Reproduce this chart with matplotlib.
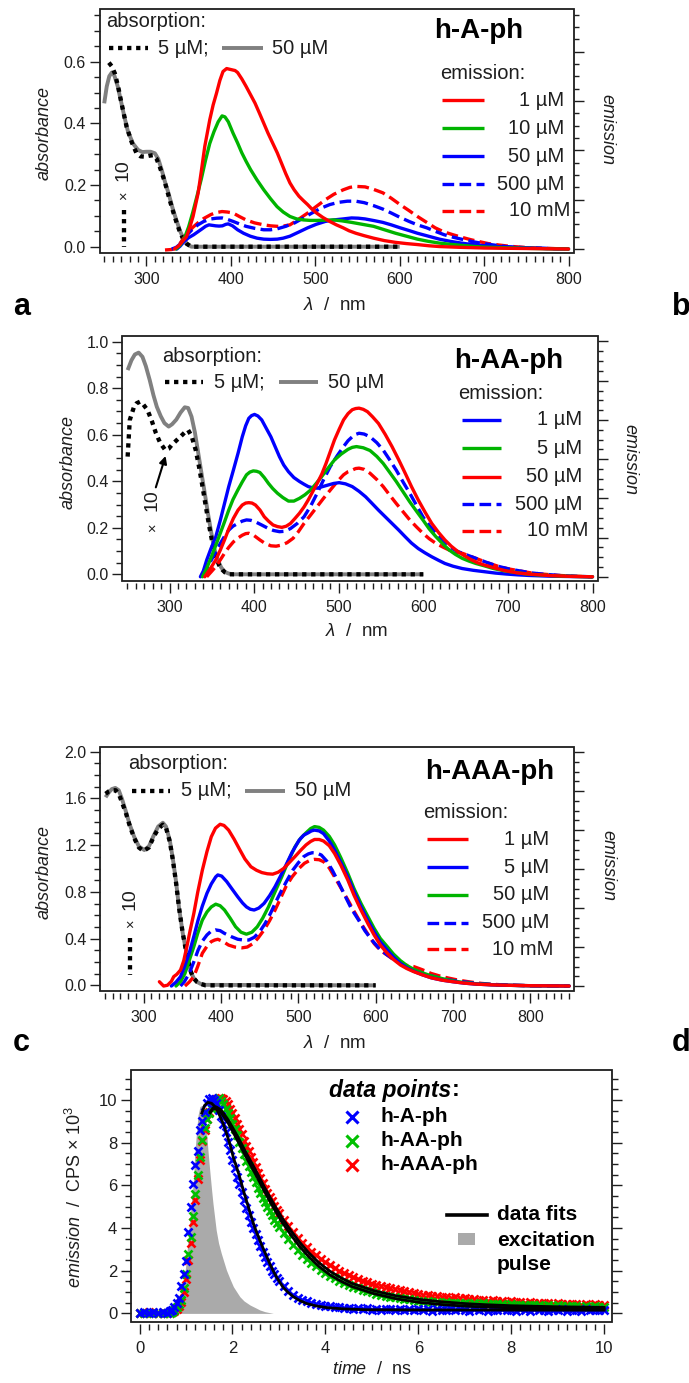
import numpy as np
import matplotlib
matplotlib.use("Agg")
import matplotlib.pyplot as plt
from matplotlib.ticker import MultipleLocator, FormatStrFormatter
from matplotlib.lines import Line2D
from matplotlib.patches import Rectangle, FancyArrowPatch

plt.rcParams['font.family'] = ['Liberation Sans', 'DejaVu Sans']
plt.rcParams['mathtext.fontset'] = 'custom'
plt.rcParams['mathtext.rm'] = 'Liberation Sans'
plt.rcParams['mathtext.it'] = 'Liberation Sans:italic'
plt.rcParams['mathtext.bf'] = 'Liberation Sans:bold'

# ---------------------------------------------------------------- data
# Absorption spectra (wavelength nm, absorbance); the 5 uM traces are x10
a_abs5 = [(255.5, 0.597), (259, 0.585), (262.6, 0.562), (266.5, 0.519), (270.5, 0.465), (276.5, 0.389),
          (282.4, 0.34), (288.3, 0.303), (293, 0.293), (298, 0.292), (303, 0.295), (308, 0.297),
          (312, 0.285), (315.8, 0.259), (320, 0.225), (323.8, 0.19), (327.5, 0.152), (331.6, 0.114),
          (335.5, 0.08), (339.5, 0.049), (343.5, 0.025), (347.4, 0.01), (352, 0.002), (356, 0.0), (600, 0.0)]
a_abs50 = [(250, 0.465), (253, 0.52), (256, 0.553), (259, 0.565), (262, 0.555), (266, 0.52), (270, 0.47),
           (274, 0.42), (278, 0.375), (284, 0.335), (290, 0.314), (295, 0.307), (300, 0.308), (305, 0.308),
           (310, 0.303), (314, 0.285), (318, 0.25), (322, 0.21), (326, 0.175), (331, 0.125), (335, 0.09),
           (340, 0.05), (344, 0.025), (348, 0.01), (353, 0.0), (600, 0.0)]
b_abs5 = [(250.5, 0.506), (253, 0.663), (258, 0.72), (261, 0.735), (265, 0.742), (269, 0.73), (274, 0.706),
          (279, 0.66), (284, 0.606), (289, 0.565), (295, 0.534), (299, 0.54), (302.6, 0.556), (308, 0.575),
          (313, 0.592), (318, 0.61), (322, 0.62), (326, 0.595), (331, 0.534), (335, 0.46), (339, 0.377),
          (343, 0.29), (347, 0.205), (351, 0.13), (354.7, 0.076), (358.5, 0.04), (362.5, 0.019),
          (366, 0.007), (370, 0.0), (600, 0.0)]
b_abs50 = [(250.5, 0.878), (255, 0.92), (259, 0.945), (263.5, 0.953), (268, 0.935), (272, 0.895),
           (276.6, 0.835), (281, 0.77), (285, 0.72), (289.6, 0.68), (294, 0.65), (299, 0.635), (303, 0.645),
           (308, 0.665), (313, 0.695), (318, 0.718), (322, 0.715), (326, 0.678), (330, 0.61), (334, 0.52),
           (338, 0.43), (341.7, 0.348), (345.5, 0.26), (349.5, 0.176), (353, 0.11), (357, 0.062),
           (361, 0.03), (365, 0.011), (370, 0.003), (375.5, 0.0), (600, 0.0)]
c_abs5 = [(251, 1.64), (255, 1.66), (259, 1.67), (264, 1.67), (268, 1.64), (272, 1.57), (277, 1.48),
          (282, 1.37), (288, 1.26), (294, 1.18), (300, 1.15), (307, 1.18), (313, 1.27), (319, 1.34),
          (325, 1.375), (329, 1.35), (334, 1.23), (338, 1.07), (342, 0.88), (346, 0.66), (350.6, 0.45),
          (354, 0.33), (358, 0.2), (361.5, 0.11), (365, 0.06), (369, 0.03), (374, 0.012), (380, 0.0), (600, 0.0)]
c_abs50 = [(251, 1.61), (255, 1.65), (259, 1.68), (263.6, 1.69), (268, 1.67), (272, 1.6), (276.7, 1.50),
           (282, 1.38), (288, 1.27), (294, 1.19), (301, 1.158), (307, 1.19), (313, 1.28), (319, 1.36),
           (325, 1.392), (329, 1.36), (334, 1.24), (338, 1.08), (342, 0.89), (346, 0.66), (350.6, 0.45),
           (354, 0.33), (358, 0.2), (361.5, 0.11), (365, 0.06), (369, 0.03), (374, 0.012), (380, 0.004), (600, 0.0)]

# Emission spectra (wavelength nm, emission in right-axis units)
a_em_1uM = [(333, 0.0), (338, 0.06), (343, 0.16), (347.4, 0.25), (351, 0.42), (355.2, 0.66), (358, 0.88),
            (361.2, 1.13), (365.2, 1.60), (369.1, 2.08), (375, 2.62), (379, 2.92), (383, 3.16), (387, 3.42),
            (390.7, 3.60), (395, 3.66), (400, 3.64), (405, 3.62), (408, 3.58), (413, 3.45), (418, 3.30),
            (423, 3.14), (428.6, 2.96), (434, 2.75), (439, 2.55), (444, 2.35), (449.5, 2.15), (455, 1.95),
            (460, 1.74), (465, 1.53), (470, 1.34), (475, 1.20), (480.7, 1.07), (486, 0.98), (491, 0.90),
            (496, 0.81), (501.5, 0.73), (509, 0.64), (517, 0.56), (525, 0.49), (533, 0.43), (540, 0.37),
            (548, 0.32), (558, 0.27), (569, 0.22), (582, 0.17), (595, 0.135), (608, 0.11), (621, 0.09),
            (635, 0.065), (647, 0.05), (670, 0.035), (700, 0.02), (750, 0.01), (800, 0.0)]
a_em_10uM = [(335, 0.0), (340, 0.08), (345, 0.22), (350, 0.45), (355, 0.75), (360, 1.08), (365, 1.42),
             (370, 1.80), (375, 2.14), (380, 2.38), (385, 2.58), (389.6, 2.70), (393, 2.68), (397, 2.58),
             (402.6, 2.35), (408, 2.15), (413, 1.95), (418, 1.78), (423.4, 1.61), (431, 1.40), (439, 1.20),
             (447, 1.02), (454.7, 0.86), (462, 0.75), (470, 0.66), (478, 0.61), (486, 0.59), (494, 0.58),
             (501.5, 0.58), (512, 0.585), (522, 0.59), (532, 0.57), (543, 0.54), (556, 0.50), (569, 0.46),
             (582, 0.39), (595, 0.32), (608, 0.26), (621, 0.20), (634, 0.155), (647, 0.12), (660, 0.095),
             (673, 0.074), (686, 0.055), (699, 0.04), (725, 0.025), (750, 0.014), (775, 0.006), (800, 0.0)]
a_em_50uM = [(336, 0.0), (340, 0.06), (345, 0.16), (350, 0.23), (356, 0.29), (361, 0.35), (366, 0.41),
             (370, 0.46), (374, 0.49), (378, 0.48), (382, 0.47), (386, 0.465), (390, 0.47), (394, 0.50),
             (397, 0.51), (402, 0.47), (408, 0.39), (415, 0.32), (423, 0.26), (431, 0.22), (439, 0.20),
             (447, 0.195), (455, 0.20), (462, 0.22), (470, 0.26), (480, 0.34), (491, 0.43), (501, 0.50),
             (512, 0.56), (522, 0.59), (533, 0.61), (543, 0.63), (551, 0.625), (559, 0.61), (570, 0.575),
             (580, 0.54), (590, 0.49), (600.5, 0.43), (611, 0.375), (621, 0.32), (634, 0.26), (647, 0.20),
             (660, 0.155), (673, 0.12), (686, 0.09), (699, 0.07), (712, 0.055), (725, 0.04), (751, 0.02),
             (775, 0.01), (800, 0.0)]
a_em_500uM = [(330, 0.0), (335, 0.03), (340, 0.10), (345, 0.22), (350, 0.32), (355, 0.41), (361, 0.49),
              (368, 0.56), (376.5, 0.61), (383, 0.625), (389.6, 0.63), (396, 0.60), (402.6, 0.56),
              (410, 0.51), (418, 0.46), (428, 0.42), (439, 0.39), (447, 0.39), (455, 0.41), (465, 0.46),
              (475.5, 0.53), (486, 0.63), (496, 0.73), (507, 0.83), (517, 0.90), (527, 0.945), (538, 0.97),
              (548, 0.97), (558, 0.94), (569, 0.88), (580, 0.81), (590, 0.73), (600, 0.645), (611, 0.56),
              (621, 0.49), (632, 0.43), (642, 0.36), (652.6, 0.29), (663, 0.24), (673, 0.20), (686, 0.15),
              (699, 0.11), (712, 0.08), (725, 0.05), (750, 0.025), (775, 0.01), (800, 0.0)]
a_em_10mM = [(322, -0.02), (330, -0.01), (335, 0.02), (340, 0.12), (345, 0.24), (350, 0.35), (355, 0.44),
             (361, 0.53), (368, 0.62), (376.5, 0.70), (383, 0.74), (389.6, 0.76), (396, 0.75), (402.6, 0.73),
             (410, 0.66), (418, 0.59), (428, 0.53), (439, 0.49), (447, 0.47), (455, 0.46), (462, 0.465),
             (470, 0.49), (480, 0.60), (491, 0.73), (501, 0.86), (512, 1.00), (522, 1.11), (533, 1.20),
             (541, 1.25), (548, 1.27), (559, 1.26), (569, 1.21), (580, 1.14), (590, 1.03), (600.5, 0.90),
             (611, 0.78), (621, 0.66), (632, 0.54), (642, 0.43), (652, 0.35), (663, 0.29), (673, 0.24),
             (684, 0.19), (694, 0.15), (705, 0.11), (718, 0.08), (731, 0.054), (750, 0.03), (775, 0.012),
             (800, 0.0)]

b_em_1uM = [(336.5, 0.0), (340, 0.15), (344, 0.43), (349, 0.72), (354.7, 1.02), (360, 1.44), (365, 1.87),
            (370, 2.30), (375.5, 2.72), (381, 3.15), (386, 3.57), (390, 3.85), (393.7, 4.04), (397, 4.11),
            (400.5, 4.14), (404.5, 4.10), (409, 4.0), (414, 3.80), (419.8, 3.57), (425, 3.31), (430, 3.06),
            (435, 2.85), (440.6, 2.68), (447, 2.53), (453.6, 2.43), (459, 2.36), (464, 2.30), (469, 2.27),
            (474.5, 2.26), (481, 2.30), (487.5, 2.34), (494, 2.38), (500.5, 2.40), (508, 2.37), (516, 2.30),
            (524, 2.18), (531.8, 2.04), (539, 1.88), (547, 1.70), (555, 1.53), (563, 1.36), (571, 1.19),
            (578.6, 1.02), (586, 0.86), (594, 0.72), (602, 0.61), (610, 0.51), (618, 0.42), (625.5, 0.34),
            (635, 0.27), (646, 0.21), (659, 0.165), (672, 0.13), (685, 0.095), (698, 0.07), (711, 0.05),
            (724.5, 0.034), (750, 0.015), (775, 0.006), (800, 0.0)]
b_em_5uM = [(339, 0.0), (344, 0.22), (349.5, 0.51), (355, 0.82), (360, 1.11), (365, 1.40), (370, 1.70),
            (375, 1.97), (380.7, 2.21), (386, 2.42), (391, 2.60), (395, 2.67), (399, 2.70), (403, 2.69),
            (406.8, 2.66), (412, 2.53), (417, 2.38), (422, 2.25), (427.6, 2.13), (434, 2.02), (440.6, 1.93),
            (447, 1.93), (453.6, 2.0), (460, 2.09), (466.7, 2.21), (473, 2.37), (479.7, 2.55), (487, 2.76),
            (495, 2.98), (503, 3.13), (511, 3.25), (516, 3.30), (521, 3.32), (529, 3.29), (537, 3.22),
            (545, 3.07), (552.6, 2.89), (560, 2.67), (568, 2.43), (576, 2.17), (584, 1.91), (592, 1.67),
            (599.5, 1.45), (607, 1.22), (615, 1.02), (623, 0.84), (630.7, 0.68), (638, 0.57), (646, 0.47),
            (654, 0.40), (662, 0.34), (672, 0.28), (683, 0.21), (696, 0.15), (709, 0.11), (722, 0.07),
            (735, 0.05), (760, 0.02), (780, 0.008), (800, 0.0)]
b_em_50uM = [(341.7, 0.0), (348, 0.2), (354.7, 0.43), (360, 0.68), (365, 0.94), (370, 1.22), (375.5, 1.49),
             (381, 1.70), (386, 1.83), (390, 1.88), (393.7, 1.89), (397.5, 1.88), (401.6, 1.83), (407, 1.70),
             (412, 1.53), (417, 1.42), (422.4, 1.32), (427.6, 1.28), (432.8, 1.26), (438, 1.29), (443, 1.36),
             (448, 1.48), (453.6, 1.62), (459, 1.78), (464, 1.96), (469, 2.16), (474.5, 2.38), (480, 2.62),
             (485, 2.89), (490, 3.19), (495, 3.49), (500.5, 3.76), (505.7, 4.0), (511, 4.16), (516, 4.26),
             (520, 4.29), (524, 4.30), (529, 4.27), (534, 4.21), (540, 4.08), (547, 3.91), (555, 3.63),
             (563, 3.32), (571, 2.98), (578.6, 2.64), (586, 2.30), (594, 1.96), (602, 1.65), (610, 1.36),
             (618, 1.13), (625.5, 0.94), (633, 0.78), (641, 0.64), (649, 0.53), (657, 0.43), (664, 0.36),
             (672, 0.30), (685, 0.22), (698, 0.15), (711, 0.10), (724.5, 0.07), (750, 0.03), (775, 0.01),
             (800, 0.0)]
b_em_500uM = [(339, 0.0), (344, 0.2), (349.5, 0.43), (355, 0.65), (360, 0.85), (365, 1.03), (370, 1.19),
              (375, 1.29), (380.7, 1.36), (386, 1.42), (391, 1.45), (396, 1.44), (401.6, 1.40), (409, 1.32),
              (417, 1.23), (423, 1.18), (430, 1.15), (436, 1.16), (443, 1.23), (451, 1.36), (459, 1.53),
              (467, 1.81), (474.5, 2.13), (482, 2.47), (490, 2.81), (498, 3.08), (505.7, 3.32), (511, 3.47),
              (516, 3.57), (520, 3.63), (524, 3.66), (530, 3.64), (537, 3.57), (545, 3.42), (552.6, 3.23),
              (560, 2.99), (568, 2.72), (576, 2.42), (584, 2.13), (592, 1.82), (599.5, 1.53), (607, 1.31),
              (615, 1.11), (623, 0.93), (630.7, 0.77), (638, 0.67), (646, 0.60), (656, 0.52), (667, 0.43),
              (677, 0.35), (688, 0.27), (701, 0.20), (714, 0.15), (727, 0.10), (740, 0.07), (760, 0.035),
              (780, 0.012), (800, 0.0)]
b_em_10mM = [(344, 0.0), (349, 0.12), (354.7, 0.26), (360, 0.43), (365, 0.60), (370, 0.75), (375.5, 0.89),
             (381, 0.99), (386, 1.06), (390, 1.10), (393.7, 1.11), (400, 1.05), (406.8, 0.94), (413, 0.85),
             (419.8, 0.79), (426, 0.78), (432.8, 0.81), (439, 0.87), (446, 0.98), (452, 1.14), (459, 1.36),
             (467, 1.58), (474.5, 1.79), (482, 2.0), (490, 2.21), (498, 2.42), (505.7, 2.60), (511, 2.68),
             (516, 2.72), (520, 2.76), (524, 2.77), (530, 2.74), (537, 2.64), (545, 2.48), (552.6, 2.30),
             (560, 2.09), (568, 1.87), (576, 1.66), (584, 1.45), (592, 1.27), (599.5, 1.11), (607, 0.97),
             (615, 0.85), (623, 0.76), (630.7, 0.68), (638, 0.63), (646, 0.60), (656, 0.52), (667, 0.43),
             (677, 0.35), (688, 0.27), (701, 0.20), (714, 0.15), (727, 0.10), (740, 0.07), (760, 0.035),
             (780, 0.012), (800, 0.0)]

c_em_1uM = [(320.5, 0.11), (326, 0.0), (331, 0.02), (336, 0.12), (339, 0.24), (343, 0.30), (347.8, 0.41),
            (352, 0.65), (356, 1.01), (360, 1.40), (365, 1.86), (370, 2.40), (376, 2.97), (382, 3.45),
            (387.6, 3.83), (393, 4.05), (399, 4.15), (404, 4.12), (410, 4.0), (417, 3.77), (424.6, 3.49),
            (431, 3.26), (438.8, 3.06), (446, 2.97), (453, 2.91), (460, 2.88), (467, 2.87), (474, 2.92),
            (481.4, 3.02), (488, 3.16), (495.7, 3.32), (503, 3.48), (510, 3.62), (516, 3.71), (521, 3.76),
            (527, 3.76), (532.6, 3.72), (540, 3.60), (546.9, 3.40), (555, 3.10), (564, 2.72), (572, 2.33),
            (581, 1.95), (590, 1.60), (598, 1.31), (606, 1.05), (615, 0.84), (623, 0.68), (632, 0.54),
            (640, 0.45), (649, 0.37), (660, 0.29), (672, 0.21), (686, 0.15), (700, 0.11), (714, 0.075),
            (729, 0.05), (750, 0.03), (768.7, 0.02), (800, 0.008), (850, 0.0)]
c_em_5uM = [(336, 0.0), (342, 0.10), (347.8, 0.24), (353, 0.50), (359, 0.84), (365, 1.27), (370.5, 1.69),
            (376, 2.05), (382, 2.38), (387.6, 2.62), (393.3, 2.80), (396, 2.85), (401, 2.82), (407.5, 2.68),
            (414, 2.50), (421.7, 2.29), (428, 2.13), (433, 2.03), (438, 1.97), (443, 1.95), (449, 2.0),
            (455.8, 2.12), (463, 2.32), (470, 2.55), (477, 2.82), (484, 3.10), (492, 3.43), (501, 3.74),
            (507, 3.87), (512.7, 3.93), (517, 3.98), (521, 4.0), (527, 3.98), (532.6, 3.91), (540, 3.72),
            (546.9, 3.49), (555, 3.17), (564, 2.80), (572, 2.42), (581, 2.03), (590, 1.68), (598, 1.39),
            (606, 1.13), (615, 0.92), (623, 0.74), (632, 0.58), (640, 0.47), (649, 0.38), (660, 0.29),
            (672, 0.21), (686, 0.15), (700, 0.11), (714, 0.075), (729, 0.05), (750, 0.03), (768.7, 0.02),
            (800, 0.008), (850, 0.0)]
c_em_50uM = [(342, 0.0), (348, 0.12), (353.5, 0.32), (359, 0.65), (365, 1.01), (370, 1.35), (376, 1.69),
             (382, 1.90), (387.6, 2.03), (393.3, 2.10), (399, 2.06), (404.7, 1.95), (412, 1.74), (419, 1.52),
             (426, 1.38), (433, 1.33), (440, 1.38), (447, 1.52), (454, 1.74), (461.5, 2.03), (470, 2.42),
             (478.6, 2.80), (487, 3.20), (495.7, 3.57), (503, 3.79), (510, 3.93), (516, 4.04), (521, 4.09),
             (527, 4.07), (532.6, 4.0), (540, 3.84), (546.9, 3.62), (555, 3.29), (564, 2.89), (572, 2.50),
             (581, 2.12), (590, 1.78), (598, 1.48), (606, 1.22), (615, 1.01), (623, 0.82), (632, 0.65),
             (640, 0.53), (649, 0.43), (660, 0.34), (672, 0.26), (686, 0.19), (700, 0.13), (714, 0.09),
             (729, 0.06), (750, 0.035), (768.7, 0.02), (800, 0.008), (850, 0.0)]
c_em_500uM = [(347.8, 0.0), (353, 0.12), (359, 0.32), (365, 0.62), (370.5, 0.92), (376, 1.15), (382, 1.31),
              (387, 1.40), (393, 1.44), (399, 1.42), (404.7, 1.35), (413, 1.27), (421.7, 1.20), (429, 1.18),
              (436, 1.18), (443, 1.25), (450, 1.39), (457, 1.60), (464, 1.86), (471, 2.16), (478.6, 2.46),
              (486, 2.73), (492.8, 2.97), (500, 3.16), (507, 3.32), (513, 3.39), (518, 3.42), (524, 3.41),
              (529.8, 3.36), (537, 3.20), (544, 2.97), (552, 2.66), (561, 2.29), (569, 1.97), (578, 1.69),
              (586, 1.42), (595, 1.18), (603, 1.0), (612, 0.84), (622, 0.70), (632, 0.58), (643, 0.47),
              (655, 0.37), (669, 0.28), (683, 0.20), (697, 0.15), (712, 0.11), (730, 0.07), (750, 0.04),
              (775, 0.02), (800, 0.008), (850, 0.0)]
c_em_10mM = [(353.5, 0.0), (359, 0.10), (365, 0.24), (370, 0.50), (376, 0.84), (382, 1.02), (387.6, 1.14),
             (392, 1.18), (396, 1.20), (403, 1.14), (410, 1.05), (418, 1.0), (427.4, 0.98), (434, 1.0),
             (441.6, 1.09), (448, 1.23), (455.8, 1.44), (463, 1.68), (470, 1.95), (477, 2.25), (484, 2.55),
             (492, 2.80), (501, 3.02), (508, 3.15), (515.6, 3.23), (521, 3.25), (527, 3.24), (532.6, 3.19),
             (540, 3.03), (546.9, 2.80), (555, 2.52), (564, 2.21), (572, 1.92), (581, 1.61), (590, 1.33),
             (598, 1.09), (606, 0.92), (615, 0.79), (623, 0.68), (632, 0.58), (640, 0.53), (649, 0.50),
             (660, 0.42), (672, 0.32), (684, 0.25), (695, 0.20), (707, 0.15), (720, 0.11), (735, 0.07),
             (750, 0.045), (775, 0.02), (800, 0.008), (850, 0.0)]

# Time-resolved emission (ns, counts x 1e3); the detector channels are shared by all samples
d_time = np.round(np.concatenate([np.arange(0.0, 0.61, 0.1),
                                  np.arange(0.65, 2.96, 0.05),
                                  np.arange(3.0, 10.01, 0.1)]), 3)
d_A = [0.02, 0.07, 0.0, 0.05, 0.03, 0.08, 0.04,
       0.10, 0.18, 0.30, 0.47, 0.70, 1.30, 1.85,
       2.45, 3.80, 5.00, 6.05, 6.95, 7.60, 8.60, 9.00, 9.45, 9.85,
       10.05, 10.08, 10.0, 9.85, 9.55, 9.25, 8.90, 8.50, 8.05, 7.65,
       7.20, 6.80, 6.40, 6.05, 5.70, 5.30, 4.95, 4.62, 4.30, 4.00,
       3.72, 3.44, 3.17, 2.90, 2.65, 2.42, 2.20, 2.00, 1.83, 1.66,
       1.52, 1.27, 1.06, 0.88, 0.74, 0.64, 0.56, 0.50, 0.45, 0.40,
       0.36, 0.36, 0.30, 0.31, 0.26, 0.27, 0.22, 0.25, 0.20, 0.23,
       0.18, 0.22, 0.16, 0.21, 0.19, 0.14, 0.22, 0.17, 0.20, 0.15,
       0.21, 0.16, 0.19, 0.13, 0.20, 0.18, 0.15, 0.21, 0.14, 0.19,
       0.17, 0.12, 0.20, 0.16, 0.19, 0.13, 0.18, 0.15, 0.20, 0.14,
       0.18, 0.13, 0.19, 0.16, 0.12, 0.20, 0.15, 0.18, 0.13, 0.17,
       0.16, 0.19, 0.12, 0.18, 0.15, 0.13, 0.19, 0.14, 0.17, 0.16,
       0.15]
d_AA = [0.0, 0.03, 0.01, 0.04, 0.02, 0.0, 0.03,
        0.03, 0.07, 0.14, 0.28, 0.45, 0.65, 1.20,
        1.85, 2.80, 3.60, 4.55, 5.60, 6.50, 7.35, 8.15, 8.70, 9.10,
        9.40, 9.60, 9.80, 10.00, 10.08, 9.95, 9.80, 9.60, 9.40, 9.15,
        8.90, 8.65, 8.35, 8.05, 7.75, 7.45, 7.15, 6.90, 6.65, 6.40,
        6.15, 5.90, 5.65, 5.40, 5.20, 5.00, 4.80, 4.60, 4.40, 4.22,
        4.05, 3.75, 3.48, 3.22, 2.98, 2.76, 2.56, 2.37, 2.20, 2.04,
        1.90, 1.77, 1.65, 1.54, 1.44, 1.35, 1.26, 1.18, 1.11, 1.04,
        0.98, 0.93, 0.88, 0.83, 0.79, 0.75, 0.72, 0.68, 0.66, 0.62,
        0.58, 0.55, 0.57, 0.53, 0.55, 0.51, 0.53, 0.50, 0.51, 0.48,
        0.50, 0.46, 0.48, 0.45, 0.47, 0.43, 0.45, 0.42, 0.44, 0.41,
        0.43, 0.39, 0.41, 0.38, 0.40, 0.37, 0.39, 0.36, 0.38, 0.35,
        0.37, 0.34, 0.36, 0.33, 0.35, 0.32, 0.34, 0.32, 0.33, 0.31,
        0.32]
d_AAA = [0.03, 0.0, 0.05, 0.02, 0.04, 0.01, 0.03,
         0.02, 0.05, 0.12, 0.22, 0.35, 0.55, 1.00,
         1.60, 2.50, 3.30, 4.30, 5.30, 6.30, 7.20, 8.10, 8.60, 9.10,
         9.45, 9.70, 9.90, 10.05, 10.10, 10.10, 10.05, 9.95, 9.80, 9.60,
         9.40, 9.15, 8.90, 8.65, 8.40, 8.10, 7.85, 7.60, 7.35, 7.10,
         6.85, 6.60, 6.35, 6.10, 5.85, 5.65, 5.45, 5.25, 5.05, 4.85,
         4.70, 4.38, 4.08, 3.80, 3.55, 3.32, 3.10, 2.90, 2.72, 2.55,
         2.40, 2.26, 2.13, 2.00, 1.90, 1.80, 1.70, 1.62, 1.54, 1.47,
         1.40, 1.34, 1.28, 1.22, 1.17, 1.12, 1.08, 1.03, 0.99, 0.96,
         0.90, 0.86, 0.87, 0.81, 0.82, 0.77, 0.78, 0.73, 0.75, 0.70,
         0.71, 0.66, 0.68, 0.63, 0.64, 0.60, 0.62, 0.57, 0.59, 0.55,
         0.56, 0.52, 0.54, 0.50, 0.52, 0.48, 0.50, 0.47, 0.49, 0.45,
         0.47, 0.43, 0.46, 0.42, 0.44, 0.41, 0.43, 0.40, 0.42, 0.39,
         0.40]
d_fit_A = [(1.34, 9.39), (1.40, 9.75), (1.47, 9.89), (1.55, 9.85), (1.62, 9.7), (1.70, 9.4), (1.80, 8.9),
           (1.87, 8.45), (1.95, 7.9), (2.02, 7.3), (2.09, 6.85), (2.16, 6.35), (2.23, 5.8), (2.31, 5.22),
           (2.38, 4.72), (2.45, 4.22), (2.52, 3.8), (2.59, 3.42), (2.66, 3.05), (2.74, 2.65), (2.81, 2.3),
           (2.88, 1.98), (2.95, 1.7), (3.02, 1.45), (3.09, 1.22), (3.2, 0.98), (3.31, 0.78), (3.45, 0.6),
           (3.6, 0.46), (3.8, 0.35), (4.03, 0.27), (4.4, 0.21), (4.89, 0.17), (6.0, 0.16), (8.0, 0.155),
           (10.0, 0.15)]
d_fit_AA = [(1.52, 9.4), (1.58, 9.58), (1.65, 9.6), (1.75, 9.42), (1.9, 8.95), (2.11, 8.1), (2.3, 7.3),
            (2.49, 6.55), (2.68, 5.75), (2.87, 5.0), (3.06, 4.3), (3.25, 3.7), (3.44, 3.15), (3.63, 2.68),
            (3.86, 2.2), (4.10, 1.8), (4.34, 1.5), (4.58, 1.25), (5.05, 0.92), (5.53, 0.68), (6.0, 0.52),
            (6.47, 0.42), (7.0, 0.34), (7.42, 0.3), (8.0, 0.26), (9.0, 0.23), (10.0, 0.21)]
d_fit_AAA = [(1.52, 9.45), (1.58, 9.63), (1.65, 9.68), (1.75, 9.55), (1.9, 9.1), (2.11, 8.3), (2.3, 7.5),
             (2.49, 6.75), (2.68, 5.95), (2.87, 5.2), (3.06, 4.5), (3.25, 3.9), (3.44, 3.35), (3.63, 2.87),
             (3.86, 2.38), (4.10, 1.97), (4.34, 1.66), (4.58, 1.4), (5.05, 1.06), (5.53, 0.82), (6.0, 0.66),
             (6.47, 0.55), (7.0, 0.46), (7.42, 0.41), (8.0, 0.36), (9.0, 0.31), (10.0, 0.28)]
d_pulse = [(0.70, 0.0), (0.80, 0.15), (0.87, 0.47), (0.94, 1.25), (1.00, 2.34), (1.05, 3.59), (1.10, 4.84),
           (1.16, 6.25), (1.19, 7.5), (1.23, 8.6), (1.26, 9.3), (1.30, 9.7), (1.35, 9.75), (1.40, 9.4),
           (1.44, 8.6), (1.47, 7.7), (1.51, 6.72), (1.55, 5.8), (1.58, 5.16), (1.65, 3.9), (1.70, 3.3),
           (1.76, 2.81), (1.87, 2.03), (1.95, 1.6), (2.02, 1.25), (2.10, 0.98), (2.16, 0.78), (2.25, 0.58),
           (2.38, 0.39), (2.5, 0.26), (2.59, 0.16), (2.7, 0.08), (2.81, 0.03), (2.88, 0.0)]

compound_names = ['h-A-ph', 'h-AA-ph', 'h-AAA-ph']
a_labels = ['1 µM', '10 µM', '50 µM', '500 µM', '10 mM']
b_labels = ['1 µM', '5 µM', '50 µM', '500 µM', '10 mM']
c_labels = ['1 µM', '5 µM', '50 µM', '500 µM', '10 mM']

# ---------------------------------------------------------------- style
RED, GREEN, BLUE = '#ff0000', '#00b400', '#0000ff'
GREEN_D = '#00c000'
GREY, PULSE = '#808080', '#aaaaaa'
INK = '#1e1e1e'
DASH = (0, (3.5, 1.6))
DOT = (0, (1, 1.1))
EM_LW, ABS_LW, DOT_LW = 2.4, 2.8, 3.1

W, H = 689, 1383
fig = plt.figure(figsize=(W / 100, H / 100), dpi=100)


def fxy(x, y):
    return x / W, 1 - y / H


def make_axes(l, t, r, b):
    return fig.add_axes([l / W, 1 - b / H, (r - l) / W, (b - t) / H])


def ftext(x, y, s, **kw):
    kw.setdefault('color', INK)
    return fig.text(*fxy(x, y), s, **kw)


def fline(xs, ys, **kw):
    fx = [x / W for x in xs]
    fy = [1 - y / H for y in ys]
    fig.add_artist(Line2D(fx, fy, transform=fig.transFigure, **kw))


def unzip(pairs):
    x, y = zip(*pairs)
    return np.array(x), np.array(y)


def add_frame(ax):
    for s in ax.spines.values():
        s.set_visible(False)
    ax.add_patch(Rectangle((0, 0), 1, 1, transform=ax.transAxes, fill=False,
                           lw=1.3, ec=INK, zorder=20, clip_on=False))


def spectrum_axes(box, xlim, ylim, elim, ymaj, ymin):
    ax = make_axes(*box)
    ax2 = ax.twinx()
    ax.set_xlim(*xlim)
    ax.set_ylim(*ylim)
    ax2.set_ylim(*elim)
    for s in ax.spines.values():
        s.set_visible(False)
    ax.spines['bottom'].set_position(('outward', 2))
    ax.xaxis.set_major_locator(MultipleLocator(100))
    ax.xaxis.set_minor_locator(MultipleLocator(10))
    ax.yaxis.set_major_locator(MultipleLocator(ymaj))
    ax.yaxis.set_minor_locator(MultipleLocator(ymin))
    ax.yaxis.set_major_formatter(FormatStrFormatter('%.1f'))
    ax.tick_params(which='both', direction='out', color=INK, width=1.0,
                   labelsize=11.5, labelcolor=INK)
    ax.tick_params(which='major', length=7)
    ax.tick_params(which='minor', length=4.5)
    ax.tick_params(axis='y', which='major', pad=3)
    ax.tick_params(axis='x', which='major', pad=5)
    ax2.yaxis.set_major_locator(MultipleLocator(1))
    ax2.yaxis.set_minor_locator(MultipleLocator(0.25))
    ax2.tick_params(which='both', direction='out', right=True, labelright=False,
                    color=INK, width=1.0)
    ax2.tick_params(which='major', length=7)
    ax2.tick_params(which='minor', length=3.6)
    add_frame(ax2)
    return ax, ax2


def draw_absorption(ax, abs5, abs50):
    x, y = unzip(abs50)
    ax.plot(x, y, color=GREY, lw=ABS_LW, solid_capstyle='butt', zorder=2)
    x, y = unzip(abs5)
    ax.plot(x, y, color='black', lw=DOT_LW, ls=DOT, dash_capstyle='butt', zorder=3)


def draw_emission(ax2, series):
    for pairs, color, dashed in series:
        x, y = unzip(pairs)
        ax2.plot(x, y, color=color, lw=EM_LW, ls=DASH if dashed else '-',
                 dash_capstyle='butt', solid_capstyle='round', zorder=3)


def legend_block(abs_pos, sample_row, name_pos, name, em_pos, samp_x, rows, entries):
    ftext(abs_pos[0], abs_pos[1], 'absorption:', fontsize=14.5, ha='left', va='center')
    (d1, d2, t5, g1, g2, t50, ry) = sample_row
    fline([d1, d2], [ry, ry], color='black', lw=DOT_LW, ls=DOT, dash_capstyle='butt')
    ftext(t5, ry, '5 µM;', fontsize=14.5, ha='left', va='center')
    fline([g1, g2], [ry, ry], color=GREY, lw=ABS_LW, solid_capstyle='butt')
    ftext(t50, ry, '50 µM', fontsize=14.5, ha='left', va='center')
    ftext(name_pos[0], name_pos[1], name, fontsize=20, fontweight='bold', ha='left', va='center',
          color='black')
    ftext(em_pos[0], em_pos[1], 'emission:', fontsize=14.5, ha='left', va='center')
    for y, (label, color, dashed, right) in zip(rows, entries):
        fline([samp_x[0], samp_x[1]], [y, y], color=color, lw=EM_LW,
              ls=DASH if dashed else '-', dash_capstyle='butt', solid_capstyle='butt')
        ftext(right, y, label, fontsize=14.5, ha='right', va='center')


def axis_labels(absorb_pos, lam_pos, em_pos):
    ftext(*absorb_pos, 'absorbance', fontsize=13, style='italic', rotation=90,
          ha='center', va='center')
    ftext(*lam_pos, r'$\mathit{λ}$  /  nm', fontsize=13.5, ha='center', va='center')
    ftext(*em_pos, 'emission', fontsize=13, style='italic', rotation=270,
          ha='center', va='center')


def times_ten(x, y10, yx, dot=None):
    ftext(x, y10, '10', fontsize=14, rotation=90, ha='center', va='center')
    ftext(x + 1, yx, '×', fontsize=10.5, rotation=90, ha='center', va='center')
    if dot is not None:
        fline([dot[0], dot[0]], [dot[1], dot[2]], color='black', lw=DOT_LW, ls=DOT,
              dash_capstyle='butt')


# ---------------------------------------------------------------- panel a
ax_a, ax_a2 = spectrum_axes((100, 9.3, 573.6, 253), (245, 806), (-0.0204, 0.770),
                            (-0.081, 4.862), 0.2, 0.05)
draw_absorption(ax_a, a_abs5, a_abs50)
draw_emission(ax_a2, [(a_em_10mM, RED, True), (a_em_500uM, BLUE, True), (a_em_50uM, BLUE, False),
                      (a_em_10uM, GREEN, False), (a_em_1uM, RED, False)])
legend_block((105.7, 21.7), (109, 147.5, 158.5, 222, 263, 271.7, 48.3), (433.7, 30.7), compound_names[0],
             (440, 73.3), (442.5, 483.5), [100, 128.3, 156, 184, 210.7],
             [(a_labels[0], RED, False, 564), (a_labels[1], GREEN, False, 564),
              (a_labels[2], BLUE, False, 564), (a_labels[3], BLUE, True, 564),
              (a_labels[4], RED, True, 570)])
axis_labels((44, 133), (334.6, 305), (607, 130))
times_ten(123, 170, 195, dot=(124.2, 210, 247))

# ---------------------------------------------------------------- panel b
ax_b, ax_b2 = spectrum_axes((122.4, 336, 597.5, 580.7), (244.3, 805.9), (-0.0275, 1.0245),
                            (-0.10, 6.14), 0.2, 0.05)
draw_absorption(ax_b, b_abs5, b_abs50)
draw_emission(ax_b2, [(b_em_10mM, RED, True), (b_em_500uM, BLUE, True), (b_em_1uM, BLUE, False),
                      (b_em_5uM, GREEN, False), (b_em_50uM, RED, False)])
legend_block((162, 356), (165, 203.4, 214.4, 278.7, 318, 328, 382.3), (454.4, 360.7), compound_names[1],
             (458, 393.3), (461.5, 501), [420, 448.3, 476.7, 504.3, 530.7],
             [(b_labels[0], BLUE, False, 582), (b_labels[1], GREEN, False, 582),
              (b_labels[2], RED, False, 582), (b_labels[3], BLUE, True, 582),
              (b_labels[4], RED, True, 588)])
axis_labels((68, 461.7), (356.7, 631.7), (629.7, 460))
times_ten(152, 500, 527)
fig.add_artist(FancyArrowPatch(fxy(155, 490), fxy(166.4, 453.3), transform=fig.transFigure,
                               arrowstyle='-|>', mutation_scale=11, lw=1.5, color='black'))

# ---------------------------------------------------------------- panel c
ax_c, ax_c2 = spectrum_axes((100.4, 746.7, 573.8, 990.7), (244.3, 856), (-0.046, 2.043),
                            (-0.12, 6.14), 0.4, 0.1)
draw_absorption(ax_c, c_abs5, c_abs50)
draw_emission(ax_c2, [(c_em_10mM, RED, True), (c_em_500uM, BLUE, True), (c_em_50uM, GREEN, False),
                      (c_em_5uM, BLUE, False), (c_em_1uM, RED, False)])
legend_block((128.6, 763.3), (132, 169.5, 181.4, 245, 285, 295, 790.7), (425, 771.7), compound_names[2],
             (423.6, 812.3), (427, 467.6), [839.3, 867.3, 895, 922.7, 949.3],
             [(c_labels[0], RED, False, 549), (c_labels[1], BLUE, False, 549),
              (c_labels[2], GREEN, False, 549), (c_labels[3], BLUE, True, 549),
              (c_labels[4], RED, True, 553.5)])
axis_labels((44, 871.7), (334.6, 1043.3), (607.7, 865))
times_ten(130, 899, 923, dot=(130, 938, 975))

# ---------------------------------------------------------------- panel d
ax_d = make_axes(131.2, 1070, 612, 1321.7)
ax_d.set_xlim(-0.18, 10.17)
ax_d.set_ylim(-0.39, 11.41)
tx, ty = unzip(d_pulse)
ax_d.fill_between(tx, 0, ty, color=PULSE, lw=0, zorder=1)
for vals, color in ((d_AAA, RED), (d_AA, GREEN_D), (d_A, BLUE)):
    ax_d.plot(d_time, vals, ls='none', marker='x', ms=6.4, mew=1.9, color=color, zorder=2)
for fit in (d_fit_A, d_fit_AA, d_fit_AAA):
    fx_, fy_ = unzip(fit)
    ax_d.plot(fx_, fy_, color='black', lw=2.0, zorder=3)
add_frame(ax_d)
ax_d.spines['bottom'].set_position(('outward', 2))
ax_d.xaxis.set_major_locator(MultipleLocator(2))
ax_d.xaxis.set_minor_locator(MultipleLocator(0.2))
ax_d.yaxis.set_major_locator(MultipleLocator(2))
ax_d.yaxis.set_minor_locator(MultipleLocator(0.5))
ax_d.tick_params(which='both', direction='out', color=INK, width=1.0, labelsize=12,
                 labelcolor=INK, right=True)
ax_d.tick_params(which='major', length=7)
ax_d.tick_params(which='minor', length=4.5)
ax_d.tick_params(axis='y', which='major', pad=3)
ax_d.tick_params(axis='x', which='major', pad=5)

ftext(75, 1196.7, r'$\mathit{emission}$  /  CPS × 10$^{3}$', fontsize=13, rotation=90,
      ha='center', va='center')
ftext(371.7, 1370, r'$\mathit{time}$  /  ns', fontsize=13, ha='center', va='center')

hdr = ftext(329, 1090, 'data points', fontsize=16.5, fontweight='bold', style='italic',
            ha='left', va='center', color='black')
for y, name, color in zip([1116.7, 1141, 1165], compound_names, [BLUE, GREEN_D, RED]):
    fline([352], [y], ls='none', marker='x', ms=8.5, mew=2.2, color=color)
    ftext(381, y, name, fontsize=15, fontweight='bold', ha='left', va='center', color='black')
fline([447, 486.6], [1215, 1215], color='black', lw=2.6)
ftext(496.7, 1215, 'data fits', fontsize=15, fontweight='bold', ha='left', va='center', color='black')
fig.add_artist(Rectangle(fxy(458, 1245), 17.5 / W, 12 / H, transform=fig.transFigure,
                         color=PULSE, lw=0))
ftext(496.7, 1240, 'excitation', fontsize=15, fontweight='bold', ha='left', va='center', color='black')
ftext(496.7, 1265, 'pulse', fontsize=15, fontweight='bold', ha='left', va='center', color='black')

# panel letters
for letter, (x, y) in zip('abcd', [(13, 307), (671.5, 307), (13, 1043), (671.5, 1043)]):
    ftext(x, y, letter, fontsize=22, fontweight='bold', ha='left', va='center', color='black')

# colon placed right after the bold-italic header
fig.canvas.draw()
bb = hdr.get_window_extent()
fig.text(bb.x1 / fig.bbox.width, hdr.get_position()[1], ':', fontsize=16.5, fontweight='bold',
         color='black', ha='left', va='center')

fig.savefig('out.png', dpi=100)
